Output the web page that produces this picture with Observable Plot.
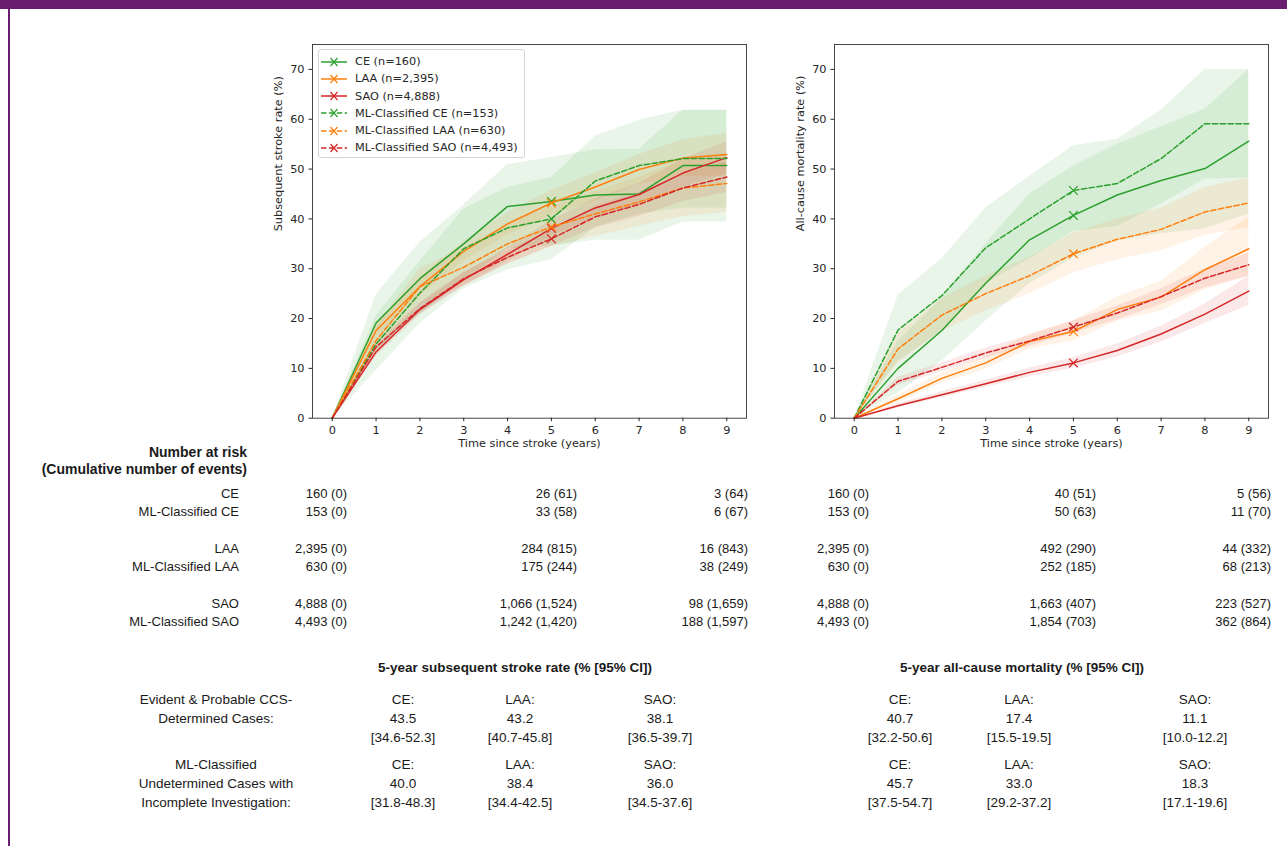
<!DOCTYPE html>
<html>
<head>
<meta charset="utf-8">
<script src="https://cdn.jsdelivr.net/npm/d3@7"></script>
<script src="https://cdn.jsdelivr.net/npm/@observablehq/plot@0.6"></script>
<style>
  body { margin: 0; background: #fff; }
  #page { position: relative; width: 1287px; height: 846px; overflow: hidden; font-family: "Liberation Sans", Arial, sans-serif; color: #1a1a1a; }
  .topbar { position: absolute; left: 0; top: 0; width: 1287px; height: 9px; background: #6b1e6f; }
  .leftline { position: absolute; left: 8px; top: 0; width: 1.6px; height: 846px; background: #6b1e6f; }
  .chart { position: absolute; }
  .t { position: absolute; white-space: nowrap; font-size: 13px; line-height: 1; }
  .r { transform: translate(-100%, -50%); }
  .c { transform: translate(-50%, -50%); }
  .b { font-weight: bold; }
  .legend { position: absolute; left: 318px; top: 49px; width: 205px; height: 107px; border: 1px solid #d4d4d4; border-radius: 3px; background: rgba(255,255,255,0.85); font-family: "DejaVu Sans", sans-serif; font-size: 11.3px; color: #262626; }
  .legend .row { position: absolute; left: 2px; height: 14px; display: flex; align-items: center; }
  .legend svg { width: 26px; height: 12px; margin-right: 8px; }
</style>
</head>
<body>
<div id="page">
  <div class="topbar"></div>
  <div class="leftline"></div>
</div>
<script>
// ---------------- DATA ----------------
const years = [0, 1, 2, 3, 4, 5, 6, 7, 8, 9];

const seriesNames = ["CE (n=160)", "LAA (n=2,395)", "SAO (n=4,888)",
  "ML-Classified CE (n=153)", "ML-Classified LAA (n=630)", "ML-Classified SAO (n=4,493)"];
const seriesColors = ["#2ca02c", "#ff7f0e", "#d62728", "#2ca02c", "#ff7f0e", "#d62728"];
const seriesDashed = [false, false, false, true, true, true];

// Subsequent stroke rate (%)
const strokeCE      = [0, 19.1, 28.0, 35.0, 42.5, 43.5, 44.8, 45.0, 50.7, 50.7];
const strokeCELo    = [0, 13.5, 21.0, 27.5, 34.0, 34.6, 35.7, 35.7, 39.4, 39.4];
const strokeCEHi    = [0, 24.8, 35.3, 42.8, 50.9, 52.3, 53.9, 54.0, 61.8, 61.8];
const strokeLAA     = [0, 17.6, 26.4, 33.5, 39.0, 43.2, 46.4, 49.9, 52.2, 52.9];
const strokeLAALo   = [0, 16.2, 24.6, 31.5, 36.8, 40.7, 43.6, 46.9, 48.5, 48.6];
const strokeLAAHi   = [0, 19.0, 28.2, 35.5, 41.2, 45.8, 49.2, 52.9, 55.9, 57.2];
const strokeSAO     = [0, 13.3, 21.8, 27.8, 32.9, 38.1, 42.2, 44.9, 49.2, 52.3];
const strokeSAOLo   = [0, 12.4, 20.7, 26.5, 31.5, 36.5, 40.3, 42.7, 46.4, 49.0];
const strokeSAOHi   = [0, 14.2, 22.9, 29.1, 34.3, 39.7, 44.1, 47.1, 52.0, 55.5];
const strokeMLCE    = [0, 14.9, 25.1, 34.0, 38.2, 40.0, 47.6, 50.7, 52.1, 52.1];
const strokeMLCELo  = [0, 9.5, 19.0, 26.0, 29.8, 31.8, 38.3, 41.0, 42.2, 42.2];
const strokeMLCEHi  = [0, 20.5, 31.5, 42.0, 46.3, 48.3, 56.6, 59.8, 61.8, 61.8];
const strokeMLLAA   = [0, 15.6, 26.4, 30.3, 35.0, 38.4, 41.0, 43.4, 46.2, 47.1];
const strokeMLLAALo = [0, 12.8, 22.8, 26.5, 31.0, 34.4, 36.5, 38.5, 40.5, 41.3];
const strokeMLLAAHi = [0, 18.4, 30.0, 34.2, 39.0, 42.5, 45.5, 48.3, 51.9, 52.9];
const strokeMLSAO   = [0, 14.3, 22.0, 28.0, 32.3, 36.0, 40.4, 42.9, 46.2, 48.4];
const strokeMLSAOLo = [0, 13.4, 20.9, 26.7, 30.9, 34.5, 38.2, 40.5, 43.5, 45.3];
const strokeMLSAOHi = [0, 15.2, 23.1, 29.3, 33.7, 37.6, 42.6, 45.3, 48.9, 51.5];

// All-cause mortality rate (%)
const mortCE        = [0, 10.0, 17.6, 27.1, 35.8, 40.7, 44.8, 47.7, 50.1, 55.6];
const mortCELo      = [0, 5.0, 11.5, 19.5, 27.0, 32.2, 35.5, 37.0, 38.0, 41.0];
const mortCEHi      = [0, 15.5, 24.0, 35.0, 45.0, 50.6, 55.0, 58.5, 62.0, 70.0];
const mortLAA       = [0, 3.9, 8.0, 11.1, 15.4, 17.4, 21.8, 24.3, 29.8, 34.0];
const mortLAALo     = [0, 3.1, 7.0, 9.8, 13.9, 15.5, 19.5, 21.5, 25.8, 28.5];
const mortLAAHi     = [0, 4.7, 9.0, 12.4, 16.9, 19.5, 24.3, 27.5, 34.3, 40.3];
const mortSAO       = [0, 2.5, 4.7, 6.9, 9.2, 11.1, 13.6, 16.9, 20.9, 25.5];
const mortSAOLo     = [0, 2.1, 4.1, 6.2, 8.3, 10.0, 12.3, 15.3, 19.0, 22.6];
const mortSAOHi     = [0, 2.9, 5.3, 7.6, 10.1, 12.2, 14.9, 18.5, 22.9, 28.5];
const mortMLCE      = [0, 17.7, 24.6, 34.2, 40.0, 45.7, 47.1, 52.1, 59.1, 59.1];
const mortMLCELo    = [0, 11.5, 17.5, 27.0, 32.0, 37.5, 38.5, 43.0, 48.0, 48.2];
const mortMLCEHi    = [0, 24.7, 32.0, 42.2, 48.5, 54.7, 56.0, 61.8, 70.0, 70.0];
const mortMLLAA     = [0, 13.9, 20.7, 25.0, 28.6, 33.0, 35.9, 37.9, 41.4, 43.2];
const mortMLLAALo   = [0, 11.0, 17.5, 21.5, 25.0, 29.2, 31.8, 33.6, 36.7, 38.3];
const mortMLLAAHi   = [0, 17.0, 24.0, 28.5, 32.3, 37.2, 40.0, 42.2, 46.3, 48.2];
const mortMLSAO     = [0, 7.4, 10.2, 13.1, 15.5, 18.3, 21.1, 24.4, 28.1, 30.8];
const mortMLSAOLo   = [0, 6.6, 9.3, 12.1, 14.4, 17.1, 19.7, 22.8, 26.2, 28.5];
const mortMLSAOHi   = [0, 8.2, 11.1, 14.1, 16.6, 19.6, 22.5, 26.0, 30.0, 33.1];

const xTicks = [0, 1, 2, 3, 4, 5, 6, 7, 8, 9];
const yTicks = [0, 10, 20, 30, 40, 50, 60, 70];
const xLabel = "Time since stroke (years)";
const yLabelStroke = "Subsequent stroke rate (%)";
const yLabelMort = "All-cause mortality rate (%)";

// Number at risk table
const riskTitle1 = "Number at risk";
const riskTitle2 = "(Cumulative number of events)";
const riskRows = ["CE", "ML-Classified CE", "LAA", "ML-Classified LAA", "SAO", "ML-Classified SAO"];
const riskStroke = [
  ["160 (0)", "26 (61)", "3 (64)"],
  ["153 (0)", "33 (58)", "6 (67)"],
  ["2,395 (0)", "284 (815)", "16 (843)"],
  ["630 (0)", "175 (244)", "38 (249)"],
  ["4,888 (0)", "1,066 (1,524)", "98 (1,659)"],
  ["4,493 (0)", "1,242 (1,420)", "188 (1,597)"]
];
const riskMort = [
  ["160 (0)", "40 (51)", "5 (56)"],
  ["153 (0)", "50 (63)", "11 (70)"],
  ["2,395 (0)", "492 (290)", "44 (332)"],
  ["630 (0)", "252 (185)", "68 (213)"],
  ["4,888 (0)", "1,663 (407)", "223 (527)"],
  ["4,493 (0)", "1,854 (703)", "362 (864)"]
];

// 5-year summary
const sumTitleStroke = "5-year subsequent stroke rate (% [95% CI])";
const sumTitleMort = "5-year all-cause mortality (% [95% CI])";
const sumGroups = ["CE:", "LAA:", "SAO:"];
const sumRowLabels = [["Evident & Probable CCS-", "Determined Cases:"],
  ["ML-Classified", "Undetermined Cases with", "Incomplete Investigation:"]];
const sumStrokeCCS = ["43.5", "43.2", "38.1"];
const sumStrokeCCSCI = ["[34.6-52.3]", "[40.7-45.8]", "[36.5-39.7]"];
const sumStrokeML = ["40.0", "38.4", "36.0"];
const sumStrokeMLCI = ["[31.8-48.3]", "[34.4-42.5]", "[34.5-37.6]"];
const sumMortCCS = ["40.7", "17.4", "11.1"];
const sumMortCCSCI = ["[32.2-50.6]", "[15.5-19.5]", "[10.0-12.2]"];
const sumMortML = ["45.7", "33.0", "18.3"];
const sumMortMLCI = ["[37.5-54.7]", "[29.2-37.2]", "[17.1-19.6]"];

// ---------------- BUILD ----------------
const page = document.getElementById("page");

function buildSeries(vals) {
  return seriesNames.map((name, k) => ({
    name, color: seriesColors[k], dashed: seriesDashed[k],
    rows: years.map((yr, i) => ({year: yr, v: vals[k][0][i], lo: vals[k][1][i], hi: vals[k][2][i]}))
  }));
}

const strokeSeries = buildSeries([
  [strokeCE, strokeCELo, strokeCEHi],
  [strokeLAA, strokeLAALo, strokeLAAHi],
  [strokeSAO, strokeSAOLo, strokeSAOHi],
  [strokeMLCE, strokeMLCELo, strokeMLCEHi],
  [strokeMLLAA, strokeMLLAALo, strokeMLLAAHi],
  [strokeMLSAO, strokeMLSAOLo, strokeMLSAOHi]
]);
const mortSeries = buildSeries([
  [mortCE, mortCELo, mortCEHi],
  [mortLAA, mortLAALo, mortLAAHi],
  [mortSAO, mortSAOLo, mortSAOHi],
  [mortMLCE, mortMLCELo, mortMLCEHi],
  [mortMLLAA, mortMLLAALo, mortMLLAAHi],
  [mortMLSAO, mortMLSAOLo, mortMLSAOHi]
]);

function makeChart(series, yLabel) {
  const marks = [];
  series.forEach(s => marks.push(Plot.areaY(s.rows, {x: "year", y1: "lo", y2: "hi", fill: s.color, fillOpacity: 0.1})));
  series.forEach(s => {
    const opts = {x: "year", y: "v", stroke: s.color, strokeWidth: 1.5};
    if (s.dashed) opts.strokeDasharray = "5.5,2.4";
    marks.push(Plot.lineY(s.rows, opts));
    marks.push(Plot.dot(s.rows.filter(d => d.year === 5), {x: "year", y: "v", symbol: "times", stroke: s.color, r: 4, strokeWidth: 1.2}));
  });
  marks.push(Plot.frame({stroke: "#333", strokeWidth: 0.9}));
  marks.push(Plot.axisX({ticks: xTicks, tickSize: 3.5, tickPadding: 4.5, label: null, tickFormat: d => String(d)}));
  marks.push(Plot.axisY({ticks: yTicks, tickSize: 3.5, tickPadding: 4.5, label: null, tickFormat: d => String(d)}));
  marks.push(Plot.text([xLabel], {text: d => d, frameAnchor: "bottom", dy: 29}));
  marks.push(Plot.text([yLabel], {text: d => d, frameAnchor: "left", dx: -34, rotate: -90}));
  return Plot.plot({
    width: 490, height: 428,
    marginLeft: 50, marginRight: 6, marginTop: 14, marginBottom: 40.3,
    x: {domain: [-0.45, 9.45]},
    y: {domain: [0, 75]},
    style: {fontFamily: "DejaVu Sans, sans-serif", fontSize: "11.3px", color: "#262626", background: "transparent", overflow: "visible"},
    marks
  });
}

function place(el, left, top) {
  const d = document.createElement("div");
  d.className = "chart";
  d.style.left = left + "px";
  d.style.top = top + "px";
  d.appendChild(el);
  page.appendChild(d);
}

place(makeChart(strokeSeries, yLabelStroke), 262, 30);
place(makeChart(mortSeries, yLabelMort), 783.5, 30);

// Legend (inside left chart)
const legend = document.createElement("div");
legend.className = "legend";
seriesNames.forEach((name, k) => {
  const row = document.createElement("div");
  row.className = "row";
  row.style.top = (4.7 + k * 17.2) + "px";
  const dash = seriesDashed[k] ? ' stroke-dasharray="5.5,2.4"' : '';
  row.innerHTML = `<svg viewBox="0 0 26 12"><line x1="0" y1="6" x2="26" y2="6" stroke="${seriesColors[k]}" stroke-width="1.5"${dash}/>` +
    `<path d="M9.5,2L16.5,10M16.5,2L9.5,10" stroke="${seriesColors[k]}" stroke-width="1.2"/></svg><span>${name}</span>`;
  legend.appendChild(row);
});
page.appendChild(legend);

function text(str, x, y, cls, size) {
  const d = document.createElement("div");
  d.className = "t " + cls;
  d.textContent = str;
  d.style.left = x + "px";
  d.style.top = y + "px";
  if (size) d.style.fontSize = size + "px";
  page.appendChild(d);
  return d;
}

// Number at risk table
text(riskTitle1, 247, 452, "r b", 14);
text(riskTitle2, 247, 469, "r b", 14);
const riskY = [493, 511, 548, 566, 603, 621];
const riskXStroke = [347, 577, 748];
const riskXMort = [869, 1096, 1271];
riskRows.forEach((lab, i) => {
  text(lab, 239, riskY[i], "r", 13);
  riskStroke[i].forEach((v, j) => text(v, riskXStroke[j], riskY[i], "r", 13));
  riskMort[i].forEach((v, j) => text(v, riskXMort[j], riskY[i], "r", 13));
});

// 5-year summary
text(sumTitleStroke, 515, 668, "c b", 13.5);
text(sumTitleMort, 1022, 668, "c b", 13.5);
const sumY1 = [700, 719, 738];
const sumY2 = [765, 784, 803];
sumRowLabels[0].forEach((s, i) => text(s, 216, sumY1[i], "c", 13.5));
sumRowLabels[1].forEach((s, i) => text(s, 216, sumY2[i], "c", 13.5));
const sumXStroke = [403, 520, 660];
const sumXMort = [900, 1019, 1195];
sumGroups.forEach((g, j) => {
  [[sumXStroke, sumStrokeCCS, sumStrokeCCSCI, sumStrokeML, sumStrokeMLCI],
   [sumXMort, sumMortCCS, sumMortCCSCI, sumMortML, sumMortMLCI]].forEach(([xs, a, aci, b, bci]) => {
    text(g, xs[j], sumY1[0], "c", 13.5);
    text(a[j], xs[j], sumY1[1], "c", 13.5);
    text(aci[j], xs[j], sumY1[2], "c", 13.5);
    text(g, xs[j], sumY2[0], "c", 13.5);
    text(b[j], xs[j], sumY2[1], "c", 13.5);
    text(bci[j], xs[j], sumY2[2], "c", 13.5);
  });
});
</script>
</body>
</html>
